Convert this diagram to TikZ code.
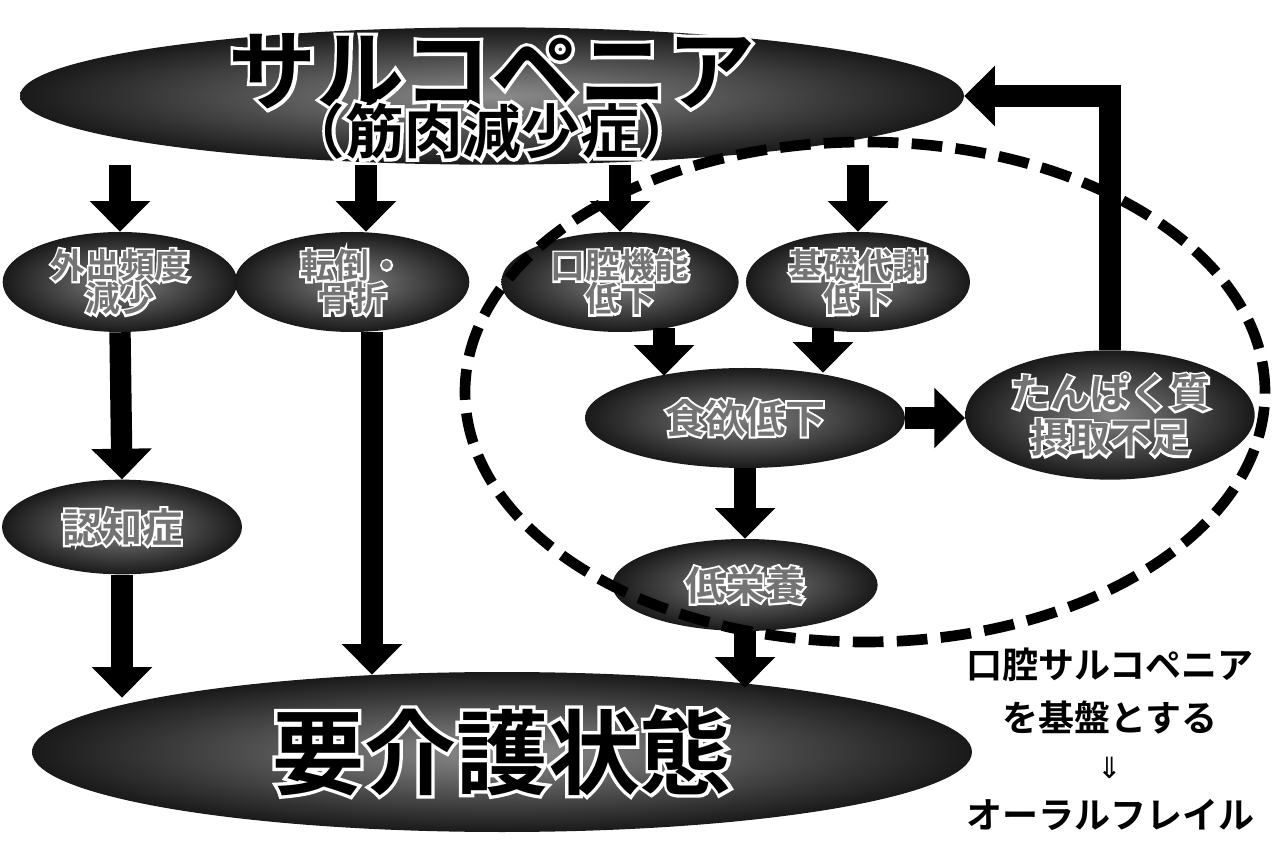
\documentclass[tikz,border=0pt]{standalone}
\usepackage{fontspec}
\newfontfamily\jp{Noto Sans CJK JP}[BoldFont={* Bold}]
\newfontfamily\dv{DejaVu Sans}
\usetikzlibrary{shapes.geometric,arrows.meta,calc}
% white stroked halo behind a filled text
\newcommand\halo[2]{\rlap{\special{pdf:literal direct 1 Tr #1 w 1 1 1 RG}#2\special{pdf:literal direct 0 Tr}}#2}
\newcommand\wbig[1]{\halo{5}{#1}}
\newcommand\wsmall[1]{\halo{3}{#1}}
\tikzset{
  ell/.style={ellipse, inner sep=0pt, draw=none, shading=radial,
    inner color=black!50, outer color=black!90, align=center},
  smalltxt/.style={text=black!55, font=\jp\bfseries\fontsize{26pt}{25pt}\selectfont},
  midtxt/.style={text=black!55, font=\jp\bfseries\fontsize{30pt}{34pt}\selectfont},
  bigtxt/.style={text=black, inner sep=0pt},
  arr/.style={line width=16pt, -{Triangle[width=44pt,length=23pt]}},
  dashring/.style={line width=8pt, dash pattern=on 23pt off 10pt},
  side/.style={font=\jp\bfseries\fontsize{27pt}{27pt}\selectfont, text=black}
}
\begin{document}
\begin{tikzpicture}[x=0.75pt,y=-0.75pt]
\useasboundingbox (0,0) rectangle (1272,841);
\fill[white] (0,0) rectangle (1272,841);

% ellipses
\node[ell, minimum width=708pt, minimum height=103pt, inner color=black!45] (top) at (492,96) {};
\node[bigtxt, font=\jp\bfseries\fontsize{66pt}{66pt}\selectfont] (toptitle) at ($(top.center)+(0,-25)$) {\wbig{サルコペニア}};
\node[bigtxt, font=\jp\bfseries\fontsize{44pt}{44pt}\selectfont] (topsub) at ($(top.center)+(0,35)$) {\wbig{（筋肉減少症）}};

\node[ell, smalltxt, minimum width=176pt, minimum height=75pt] (gaishutsu) at (120,282) {\wsmall{外出頻度}\\\wsmall{減少}};
\node[ell, smalltxt, minimum width=176pt, minimum height=75pt] (tentou) at (352,282) {\wsmall{転倒・}\\\wsmall{骨折}};
\node[ell, smalltxt, minimum width=178pt, minimum height=75pt] (koukuu) at (620,282) {\wsmall{口腔機能}\\\wsmall{低下}};
\node[ell, smalltxt, minimum width=168pt, minimum height=75pt] (kiso) at (858,282) {\wsmall{基礎代謝}\\\wsmall{低下}};

\node[ell, midtxt, minimum width=240pt, minimum height=75pt] (shokuyoku) at (745,418) {\wsmall{食欲低下}};
\node[ell, midtxt, minimum width=217pt, minimum height=97pt] (tanpaku) at (1110,415) {\wsmall{たんぱく質}\\\wsmall{摂取不足}};
\node[ell, midtxt, minimum width=180pt, minimum height=71pt] (ninchi) at (122,527) {\wsmall{認知症}};
\node[ell, midtxt, minimum width=199pt, minimum height=69pt] (teieiyou) at (745,585) {\wsmall{低栄養}};

\node[ell, minimum width=705pt, minimum height=120pt, inner color=black!45] (kaigo) at (502,752) {};
\node[bigtxt, font=\jp\bfseries\fontsize{69pt}{69pt}\selectfont] (kaigotxt) at (kaigo.center) {\wbig{要介護状態}};

% arrows from top ellipse
\draw[arr] (top.south -| gaishutsu.north) -- (gaishutsu.north);
\draw[arr] ($(top.south -| tentou.north)+(14,0)$) -- ($(tentou.north)+(14,0)$);
\draw[arr] (top.south -| koukuu.north) -- (koukuu.north);
\draw[arr] (top.south -| kiso.north) -- (kiso.north);

% second level
\draw[arr] ($(koukuu.south)+(44,-4)$) -- ($(koukuu.south |- shokuyoku.north)+(44,8)$);
\draw[arr] ($(kiso.south)+(-35,-4)$) -- ($(kiso.south |- shokuyoku.north)+(-35,5)$);
\draw[arr] (shokuyoku.east) -- (shokuyoku.east -| tanpaku.west);
\draw[arr] (tanpaku.north) -- (tanpaku.north |- top.east) -- (top.east);
\draw[arr] (gaishutsu.south) -- (ninchi.north);
\draw[arr] (shokuyoku.south) -- (teieiyou.north);

% into bottom ellipse
\draw[arr] (ninchi.south) -- ($(kaigo.north -| ninchi.south)+(0,26)$);
\draw[arr] ($(tentou.south)+(20,0)$) -- ($(kaigo.north -| tentou.south)+(20,3)$);
\draw[arr] (teieiyou.south) -- ($(kaigo.north -| teieiyou.south)+(0,16)$);

% dashed ring
\draw[dashring] (865,392) ellipse [x radius=300pt, y radius=187.5pt];

% side text
\node[side] (oral1) at (1110,665) {口腔サルコペニア};
\node[side] (oral2) at (1110,718) {を基盤とする};
\node[font=\dv\fontsize{22pt}{22pt}\selectfont] (darr) at (1110,768) {⇓};
\node[side] (oral3) at (1110,815) {オーラルフレイル};
\end{tikzpicture}
\end{document}
